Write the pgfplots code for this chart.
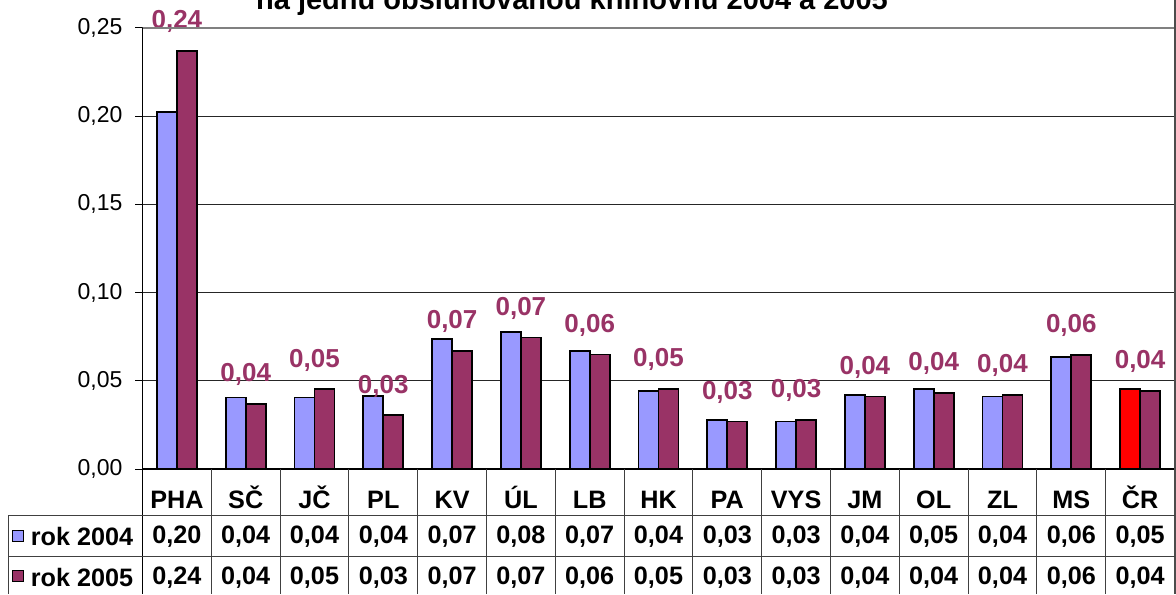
\documentclass[border=0pt]{standalone}
\usepackage{pgfplots}
\pgfplotsset{compat=1.18}
\usepackage{pgfplotstable}
\usepackage{fontspec}
\setmainfont{Liberation Sans}
\definecolor{c2004}{HTML}{9999FF}
\definecolor{c2005}{HTML}{993366}
\definecolor{ccr}{HTML}{FF0000}

\pgfplotstableread{
idx cat v2004 v2005
0 PHA 0.2024 0.2370
1 SČ 0.0405 0.0370
2 JČ 0.0405 0.0452
3 PL 0.0416 0.0306
4 KV 0.0735 0.0670
5 ÚL 0.0778 0.0746
6 LB 0.0670 0.0649
7 HK 0.0443 0.0455
8 PA 0.0280 0.0269
9 VYS 0.0269 0.0280
10 JM 0.0420 0.0411
11 OL 0.0455 0.0432
12 ZL 0.0411 0.0420
13 MS 0.0636 0.0648
14 ČR 0.0455 0.0443
}\data

\tikzset{
  numfmt/.style={/pgf/number format/fixed, /pgf/number format/fixed zerofill,
    /pgf/number format/precision=2, /pgf/number format/use comma,
    /pgf/number format/assume math mode=true},
}
\newcommand{\tabfont}{\bfseries\fontsize{12.6}{14}\selectfont}
\pgfplotsset{
  tablerow/.style={draw=none, fill=none, bar shift=0pt, forget plot,
    nodes near coords, point meta=explicit,
    every node near coord/.style={anchor=center, text=black, numfmt,
      font=\tabfont}},
}

\begin{document}
\begin{tikzpicture}
\useasboundingbox (-71.25pt,-62.5pt) rectangle (516.75pt,234.5pt);
\begin{axis}[
    scale only axis,
    width=516pt, height=220.5pt,
    xmin=-0.5, xmax=14.5, ymin=0, ymax=0.25,
    clip=false,
    ybar, bar width=10pt,
    axis line style={draw=none},
    xtick={0,...,14},
    xticklabels from table={\data}{cat},
    xtick style={draw=none},
    xticklabel style={anchor=base, yshift=-16pt, font=\tabfont},
    ytick={0,0.05,0.1,0.15,0.2,0.25},
    ytick pos=left, tick align=outside, major tick length=3.5pt,
    ytick style={black, line width=0.5pt},
    yticklabel style={numfmt, xshift=-3pt, font=\fontsize{11.5}{13}\selectfont},
    ymajorgrids, grid style={black!85, line width=0.5pt},
]
\addplot[fill=c2004, draw=black, line width=0.9pt, bar shift=-5pt,
  restrict x to domain=0:13]
  table[x=idx, y=v2004] {\data};
\addplot[fill=ccr, draw=black, line width=0.9pt, bar shift=-5pt,
  restrict x to domain=14:14]
  table[x=idx, y=v2004] {\data};
\addplot[fill=c2005, draw=black, line width=0.9pt, bar shift=5pt,
  nodes near coords,
  every node near coord/.style={anchor=center, yshift=14.5pt, text=c2005, numfmt,
    font=\bfseries\fontsize{13}{15}\selectfont}]
  table[x=idx, y=v2005] {\data};
% data table rows
\addplot[tablerow] table[x=idx, y expr=-0.0382, meta=v2004] {\data};
\addplot[tablerow] table[x=idx, y expr=-0.0614, meta=v2005] {\data};
\end{axis}
% frame and table lines
\draw[gray, line width=1pt] (0,220.5pt) -- (516pt,220.5pt);
\draw[black, line width=0.6pt] (0,220.5pt) -- (0,-62.5pt);
\draw[black, line width=0.6pt] (0,0) -- (516pt,0);
\draw[gray!60!black, line width=1pt] (516pt,234.5pt) -- (516pt,-62.5pt);
\draw[black!75, line width=0.5pt] (-67pt,-23pt) -- (516pt,-23pt);
\draw[black!75, line width=0.5pt] (-67pt,-43.5pt) -- (516pt,-43.5pt);
\draw[black!75, line width=0.5pt] (-67pt,-23pt) -- (-67pt,-62.5pt);
\foreach \k in {1,...,14}
  \draw[black!75, line width=0.5pt] ({\k*516pt/15},0) -- ({\k*516pt/15},-62.5pt);
% legend keys in the table
\filldraw[fill=c2004, draw=black, line width=0.5pt] (-65pt,-36.3pt) rectangle ++(5.5pt,5.5pt);
\filldraw[fill=c2005, draw=black, line width=0.5pt] (-65pt,-56.3pt) rectangle ++(5.5pt,5.5pt);
\node[anchor=west, inner sep=0pt, font=\tabfont] at (-56pt,-33.5pt) {rok 2004};
\node[anchor=west, inner sep=0pt, font=\tabfont] at (-56pt,-54pt) {rok 2005};
% title (cut off at the top as in the original)
\node[anchor=base, inner sep=0pt, font=\bfseries\fontsize{14.5}{17}\selectfont] at (214.75pt,229.5pt)
  {na jednu obsluhovanou knihovnu 2004 a 2005};
\end{tikzpicture}
\end{document}
